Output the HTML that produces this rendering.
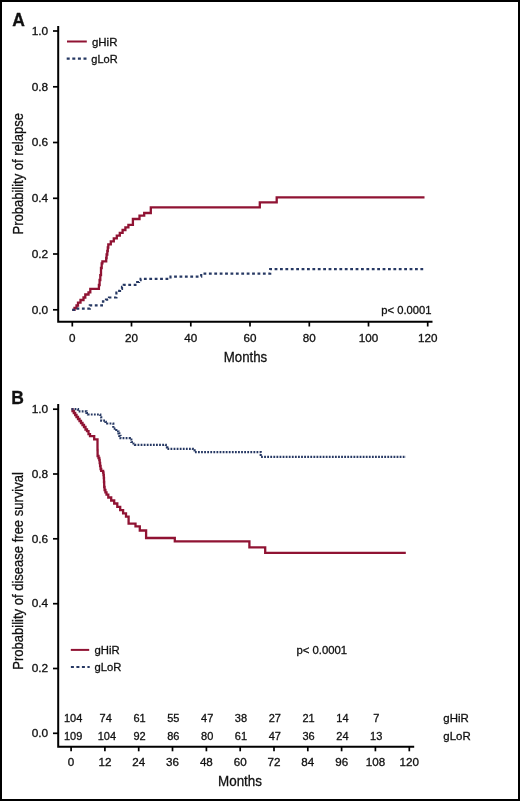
<!DOCTYPE html>
<html><head><meta charset="utf-8"><style>
html,body{margin:0;padding:0;background:#fff;}
svg{display:block;will-change:transform;}
text{font-family:"Liberation Sans", sans-serif;fill:#111;stroke:#111;stroke-width:0.3px;}
</style></head><body>
<svg width="520" height="801" viewBox="0 0 520 801">
<rect width="520" height="801" fill="#fff"/>
<rect x="1" y="1" width="518" height="799" fill="none" stroke="#000" stroke-width="2"/>
<text x="12.20" y="26.10" font-size="17.5" text-anchor="start" font-weight="bold">A</text>
<path d="M58.2,26 V321.7 H432.5" fill="none" stroke="#000" stroke-width="2" stroke-linejoin="miter"/>
<path d="M53,309.8 H58" stroke="#000" stroke-width="1.7"/>
<text transform="translate(48.20,313.55) scale(1.08,1)" font-size="11" text-anchor="end" >0.0</text>
<path d="M53,254.0 H58" stroke="#000" stroke-width="1.7"/>
<text transform="translate(48.20,257.79) scale(1.08,1)" font-size="11" text-anchor="end" >0.2</text>
<path d="M53,198.3 H58" stroke="#000" stroke-width="1.7"/>
<text transform="translate(48.20,202.03) scale(1.08,1)" font-size="11" text-anchor="end" >0.4</text>
<path d="M53,142.5 H58" stroke="#000" stroke-width="1.7"/>
<text transform="translate(48.20,146.27) scale(1.08,1)" font-size="11" text-anchor="end" >0.6</text>
<path d="M53,86.8 H58" stroke="#000" stroke-width="1.7"/>
<text transform="translate(48.20,90.51) scale(1.08,1)" font-size="11" text-anchor="end" >0.8</text>
<path d="M53,31.0 H58" stroke="#000" stroke-width="1.7"/>
<text transform="translate(48.20,34.75) scale(1.08,1)" font-size="11" text-anchor="end" >1.0</text>
<path d="M72.3,322 V326.5" stroke="#000" stroke-width="1.7"/>
<text transform="translate(72.30,342.00) scale(1.06,1)" font-size="11" text-anchor="middle" >0</text>
<path d="M131.5,322 V326.5" stroke="#000" stroke-width="1.7"/>
<text transform="translate(131.54,342.00) scale(1.06,1)" font-size="11" text-anchor="middle" >20</text>
<path d="M190.8,322 V326.5" stroke="#000" stroke-width="1.7"/>
<text transform="translate(190.78,342.00) scale(1.06,1)" font-size="11" text-anchor="middle" >40</text>
<path d="M250.0,322 V326.5" stroke="#000" stroke-width="1.7"/>
<text transform="translate(250.02,342.00) scale(1.06,1)" font-size="11" text-anchor="middle" >60</text>
<path d="M309.3,322 V326.5" stroke="#000" stroke-width="1.7"/>
<text transform="translate(309.26,342.00) scale(1.06,1)" font-size="11" text-anchor="middle" >80</text>
<path d="M368.5,322 V326.5" stroke="#000" stroke-width="1.7"/>
<text transform="translate(368.50,342.00) scale(1.06,1)" font-size="11" text-anchor="middle" >100</text>
<path d="M427.7,322 V326.5" stroke="#000" stroke-width="1.7"/>
<text transform="translate(427.74,342.00) scale(1.06,1)" font-size="11" text-anchor="middle" >120</text>
<text x="245.50" y="361.60" font-size="15" text-anchor="middle" textLength="43.5" lengthAdjust="spacingAndGlyphs">Months</text>
<text transform="translate(23.4,173.8) rotate(-90)" font-size="15.3" text-anchor="middle" textLength="121.5" lengthAdjust="spacingAndGlyphs">Probability of relapse</text>
<path d="M67,41.5 H86.8" stroke="#901333" stroke-width="2"/>
<text transform="translate(92.00,45.60) scale(1.04,1)" font-size="11" text-anchor="start" >gHiR</text>
<path d="M66.7,58.7 H86.5" stroke="#263863" stroke-width="2.2" stroke-dasharray="3,2.6"/>
<text x="91.30" y="62.60" font-size="11" text-anchor="start" >gLoR</text>
<text transform="translate(381.30,313.90) scale(1.02,1)" font-size="11" text-anchor="start" >p&lt; 0.0001</text>
<path d="M72.3,309.8 H74.5 V308.0 H76.5 V305.5 H78.0 V302.6 H80.5 V300.0 H83.5 V297.5 H85.3 V294.5 H88.5 V292.3 H90.3 V288.8 H98.9 V285.0 H99.6 V280.0 H100.3 V275.2 H101.0 V268.0 H101.7 V263.3 H102.4 V261.3 H106.2 V258.0 H106.6 V254.5 H107.3 V251.0 H107.8 V247.5 H108.3 V244.4 H110.8 V241.3 H113.8 V238.4 H116.8 V235.6 H119.8 V232.8 H122.6 V230.0 H125.4 V227.3 H128.4 V224.8 H132.9 V219.0 H139.5 V215.6 H144.2 V213.0 H150.8 V207.4 H259.8 V202.4 H276.7 V197.4 H424.5" fill="none" stroke="#901333" stroke-width="2.3"/>
<path d="M72.3,309.8 H74.0 V308.6 H89.8 V305.3 H103.0 V301.3 H106.0 V299.7 H109.0 V297.5 H116.4 V292.7 H118.0 V290.8 H120.0 V288.8 H122.0 V286.9 H123.8 V284.8 H137.2 V282.0 H139.0 V280.2 H140.6 V278.8 H170.5 V276.6 H201.2 V273.6 H270.2 V269.1 H424.6" fill="none" stroke="#263863" stroke-width="2.2" stroke-dasharray="2.8,2.6"/>
<text x="11.30" y="404.10" font-size="17.5" text-anchor="start" font-weight="bold">B</text>
<path d="M58.2,404 V746.8 H414.2" fill="none" stroke="#000" stroke-width="2"/>
<path d="M53,733.3 H58" stroke="#000" stroke-width="1.7"/>
<text transform="translate(48.20,737.05) scale(1.08,1)" font-size="11" text-anchor="end" >0.0</text>
<path d="M53,668.5 H58" stroke="#000" stroke-width="1.7"/>
<text transform="translate(48.20,672.23) scale(1.08,1)" font-size="11" text-anchor="end" >0.2</text>
<path d="M53,603.7 H58" stroke="#000" stroke-width="1.7"/>
<text transform="translate(48.20,607.41) scale(1.08,1)" font-size="11" text-anchor="end" >0.4</text>
<path d="M53,538.8 H58" stroke="#000" stroke-width="1.7"/>
<text transform="translate(48.20,542.59) scale(1.08,1)" font-size="11" text-anchor="end" >0.6</text>
<path d="M53,474.0 H58" stroke="#000" stroke-width="1.7"/>
<text transform="translate(48.20,477.77) scale(1.08,1)" font-size="11" text-anchor="end" >0.8</text>
<path d="M53,409.2 H58" stroke="#000" stroke-width="1.7"/>
<text transform="translate(48.20,412.95) scale(1.08,1)" font-size="11" text-anchor="end" >1.0</text>
<path d="M71.1,747 V751.3" stroke="#000" stroke-width="1.7"/>
<text transform="translate(71.10,766.30) scale(1.06,1)" font-size="11" text-anchor="middle" >0</text>
<path d="M104.9,747 V751.3" stroke="#000" stroke-width="1.7"/>
<text transform="translate(104.92,766.30) scale(1.06,1)" font-size="11" text-anchor="middle" >12</text>
<path d="M138.7,747 V751.3" stroke="#000" stroke-width="1.7"/>
<text transform="translate(138.73,766.30) scale(1.06,1)" font-size="11" text-anchor="middle" >24</text>
<path d="M172.5,747 V751.3" stroke="#000" stroke-width="1.7"/>
<text transform="translate(172.55,766.30) scale(1.06,1)" font-size="11" text-anchor="middle" >36</text>
<path d="M206.4,747 V751.3" stroke="#000" stroke-width="1.7"/>
<text transform="translate(206.36,766.30) scale(1.06,1)" font-size="11" text-anchor="middle" >48</text>
<path d="M240.2,747 V751.3" stroke="#000" stroke-width="1.7"/>
<text transform="translate(240.18,766.30) scale(1.06,1)" font-size="11" text-anchor="middle" >60</text>
<path d="M274.0,747 V751.3" stroke="#000" stroke-width="1.7"/>
<text transform="translate(274.00,766.30) scale(1.06,1)" font-size="11" text-anchor="middle" >72</text>
<path d="M307.8,747 V751.3" stroke="#000" stroke-width="1.7"/>
<text transform="translate(307.81,766.30) scale(1.06,1)" font-size="11" text-anchor="middle" >84</text>
<path d="M341.6,747 V751.3" stroke="#000" stroke-width="1.7"/>
<text transform="translate(341.63,766.30) scale(1.06,1)" font-size="11" text-anchor="middle" >96</text>
<path d="M375.4,747 V751.3" stroke="#000" stroke-width="1.7"/>
<text transform="translate(375.44,766.30) scale(1.06,1)" font-size="11" text-anchor="middle" >108</text>
<path d="M409.3,747 V751.3" stroke="#000" stroke-width="1.7"/>
<text transform="translate(409.26,766.30) scale(1.06,1)" font-size="11" text-anchor="middle" >120</text>
<text x="240.00" y="786.10" font-size="15" text-anchor="middle" textLength="44" lengthAdjust="spacingAndGlyphs">Months</text>
<text transform="translate(23.4,570.9) rotate(-90)" font-size="15.3" text-anchor="middle" textLength="197.5" lengthAdjust="spacingAndGlyphs">Probability of disease free survival</text>
<path d="M70.8,649.9 H89.2" stroke="#901333" stroke-width="2"/>
<text transform="translate(94.50,653.70) scale(1.03,1)" font-size="11" text-anchor="start" >gHiR</text>
<path d="M70.9,667 H89.7" stroke="#263863" stroke-width="2.2" stroke-dasharray="3,2.5"/>
<text transform="translate(94.50,671.00) scale(1.02,1)" font-size="11" text-anchor="start" >gLoR</text>
<text transform="translate(296.40,654.10) scale(1.03,1)" font-size="11" text-anchor="start" >p&lt; 0.0001</text>
<text x="73.10" y="721.80" font-size="11" text-anchor="middle" >104</text>
<text x="73.10" y="739.80" font-size="11" text-anchor="middle" >109</text>
<text x="105.72" y="721.80" font-size="11" text-anchor="middle" >74</text>
<text x="106.92" y="739.80" font-size="11" text-anchor="middle" >104</text>
<text x="139.53" y="721.80" font-size="11" text-anchor="middle" >61</text>
<text x="139.53" y="739.80" font-size="11" text-anchor="middle" >92</text>
<text x="173.35" y="721.80" font-size="11" text-anchor="middle" >55</text>
<text x="173.35" y="739.80" font-size="11" text-anchor="middle" >86</text>
<text x="207.16" y="721.80" font-size="11" text-anchor="middle" >47</text>
<text x="207.16" y="739.80" font-size="11" text-anchor="middle" >80</text>
<text x="240.98" y="721.80" font-size="11" text-anchor="middle" >38</text>
<text x="240.98" y="739.80" font-size="11" text-anchor="middle" >61</text>
<text x="274.80" y="721.80" font-size="11" text-anchor="middle" >27</text>
<text x="274.80" y="739.80" font-size="11" text-anchor="middle" >47</text>
<text x="308.61" y="721.80" font-size="11" text-anchor="middle" >21</text>
<text x="308.61" y="739.80" font-size="11" text-anchor="middle" >36</text>
<text x="342.43" y="721.80" font-size="11" text-anchor="middle" >14</text>
<text x="342.43" y="739.80" font-size="11" text-anchor="middle" >24</text>
<text x="376.24" y="721.80" font-size="11" text-anchor="middle" >7</text>
<text x="376.24" y="739.80" font-size="11" text-anchor="middle" >13</text>
<text transform="translate(443.30,721.60) scale(1.04,1)" font-size="11" text-anchor="start" >gHiR</text>
<text transform="translate(443.30,739.60) scale(1.04,1)" font-size="11" text-anchor="start" >gLoR</text>
<path d="M71.5,409.2 H72.5 V411.0 H73.8 V413.0 H75.2 V415.0 H76.5 V417.0 H78.0 V419.0 H79.5 V421.0 H81.0 V423.0 H82.5 V425.0 H84.0 V427.0 H85.5 V429.5 H87.0 V431.2 H88.5 V434.2 H90.0 V436.1 H94.2 V439.3 H97.5 V445.0 H97.5 V450.0 H97.6 V456.0 H98.5 V458.0 H99.3 V460.0 H99.7 V463.0 H100.1 V466.0 H100.6 V469.0 H101.2 V470.8 H103.1 V472.5 H103.5 V475.0 H103.8 V478.0 H104.0 V482.0 H104.2 V487.0 H104.6 V490.0 H105.4 V492.3 H106.5 V494.6 H108.3 V497.5 H111.2 V500.5 H114.2 V503.5 H117.3 V506.8 H120.2 V510.2 H123.1 V513.3 H126.0 V516.6 H128.6 V523.6 H135.5 V526.4 H139.8 V530.5 H146.1 V538.0 H174.8 V541.3 H249.4 V547.3 H265.2 V552.9 H405.8" fill="none" stroke="#901333" stroke-width="2.3"/>
<path d="M71.5,409.2 H78.0 V411.3 H86.5 V413.0 H88.0 V414.5 H100.3 V417.3 H101.2 V420.6 H105.5 V421.8 H107.2 V423.5 H113.3 V428.6 H116.3 V431.5 H118.5 V433.3 H119.3 V435.8 H120.5 V438.2 H129.8 V439.5 H131.3 V442.0 H133.5 V443.5 H135.0 V444.8 H165.8 V447.3 H167.3 V448.8 H192.8 V450.3 H194.6 V452.1 H260.7 V456.8 H406.0" fill="none" stroke="#263863" stroke-width="2.2" stroke-dasharray="1.8,1.28"/>
</svg>
</body></html>
